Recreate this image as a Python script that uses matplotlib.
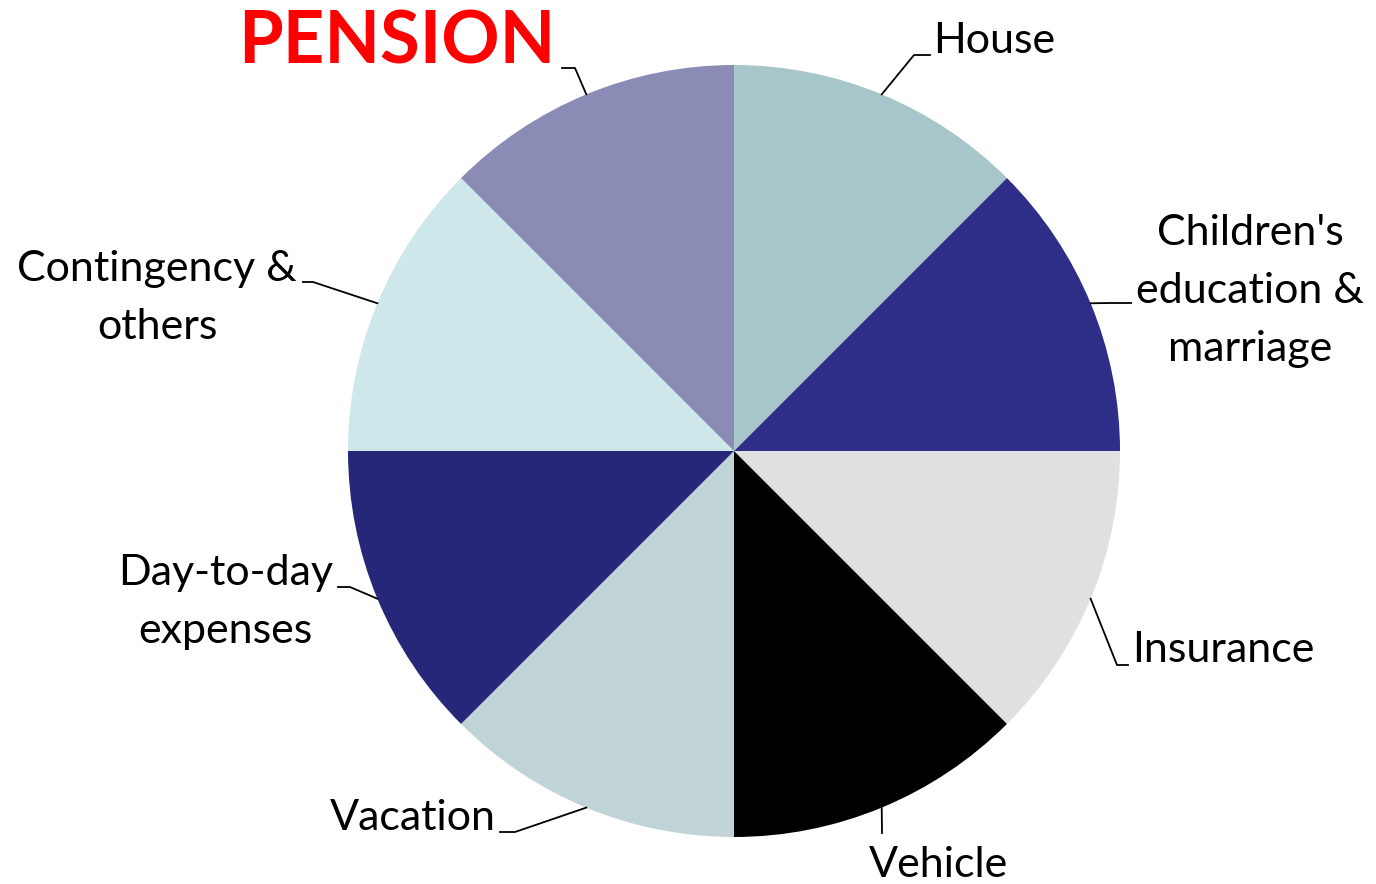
import matplotlib.pyplot as plt
import numpy as np

# Donnees du camembert (8 parts egales)
categories = ['House', "Children's\neducation &\nmarriage", 'Insurance', 'Vehicle',
              'Vacation', 'Day-to-day\nexpenses', 'Contingency &\nothers', 'PENSION']
shares = [12.5, 12.5, 12.5, 12.5, 12.5, 12.5, 12.5, 12.5]
colors = ['#a6c6c9', '#2e2d87', '#e0e0e0', '#000000',
          '#c0d3d6', '#27277a', '#cde7ea', '#8a8cb6']

# Mise en page en pixels : centre du camembert et rayon
W, H = 1376, 884
CX, CY, R = 734, 451, 386

def px(x, y):
    return (x - CX) / R, (CY - y) / R

# position du texte, coude du trait, bout du trait, alignement
label_layout = [
    ((933, 41), (914, 55), (930, 55), 'left', 'center'),
    ((1136, 291), (1110, 303), (1131, 303), 'left', 'center'),
    ((1132, 650), (1117, 665), (1128, 665), 'left', 'center'),
    ((938, 865), (882, 833), (882, 833), 'center', 'center'),
    ((496, 818), (515, 832), (500, 832), 'right', 'center'),
    ((333, 602), (350, 587), (338, 587), 'right', 'center'),
    ((297, 298), (313, 282), (303, 282), 'right', 'center'),
    ((555, 43), (575, 68), (562, 68), 'right', 'center'),
]

plt.rcParams['font.family'] = ['Lato', 'DejaVu Sans']

fig = plt.figure(figsize=(W / 100, H / 100), dpi=100)
ax = fig.add_axes([0, 0, 1, 1])

wedges, _ = ax.pie(shares, colors=colors, startangle=90, counterclock=False,
                   radius=1, wedgeprops={'linewidth': 0})

for i, w in enumerate(wedges):
    mid = np.deg2rad((w.theta1 + w.theta2) / 2)
    ex, ey = np.cos(mid), np.sin(mid)
    (tx, ty), elbow, end, ha, va = label_layout[i]
    bx, by = px(*elbow)
    fx, fy = px(*end)
    ax.plot([ex, bx, fx], [ey, by, fy], color='black', lw=1.3, zorder=3)
    x, y = px(tx, ty)
    if categories[i] == 'PENSION':
        ax.text(x, y, categories[i], ha=ha, va=va, fontsize=52,
                fontweight='bold', color='#ff0000')
    else:
        ax.text(x, y, categories[i], ha=ha, va=va, fontsize=31,
                multialignment='center', linespacing=1.65, color='black')

ax.set_xlim(-CX / R, (W - CX) / R)
ax.set_ylim(-(H - CY) / R, CY / R)
ax.set_aspect('equal')
ax.axis('off')

fig.savefig('out.png', dpi=100, facecolor='white')
